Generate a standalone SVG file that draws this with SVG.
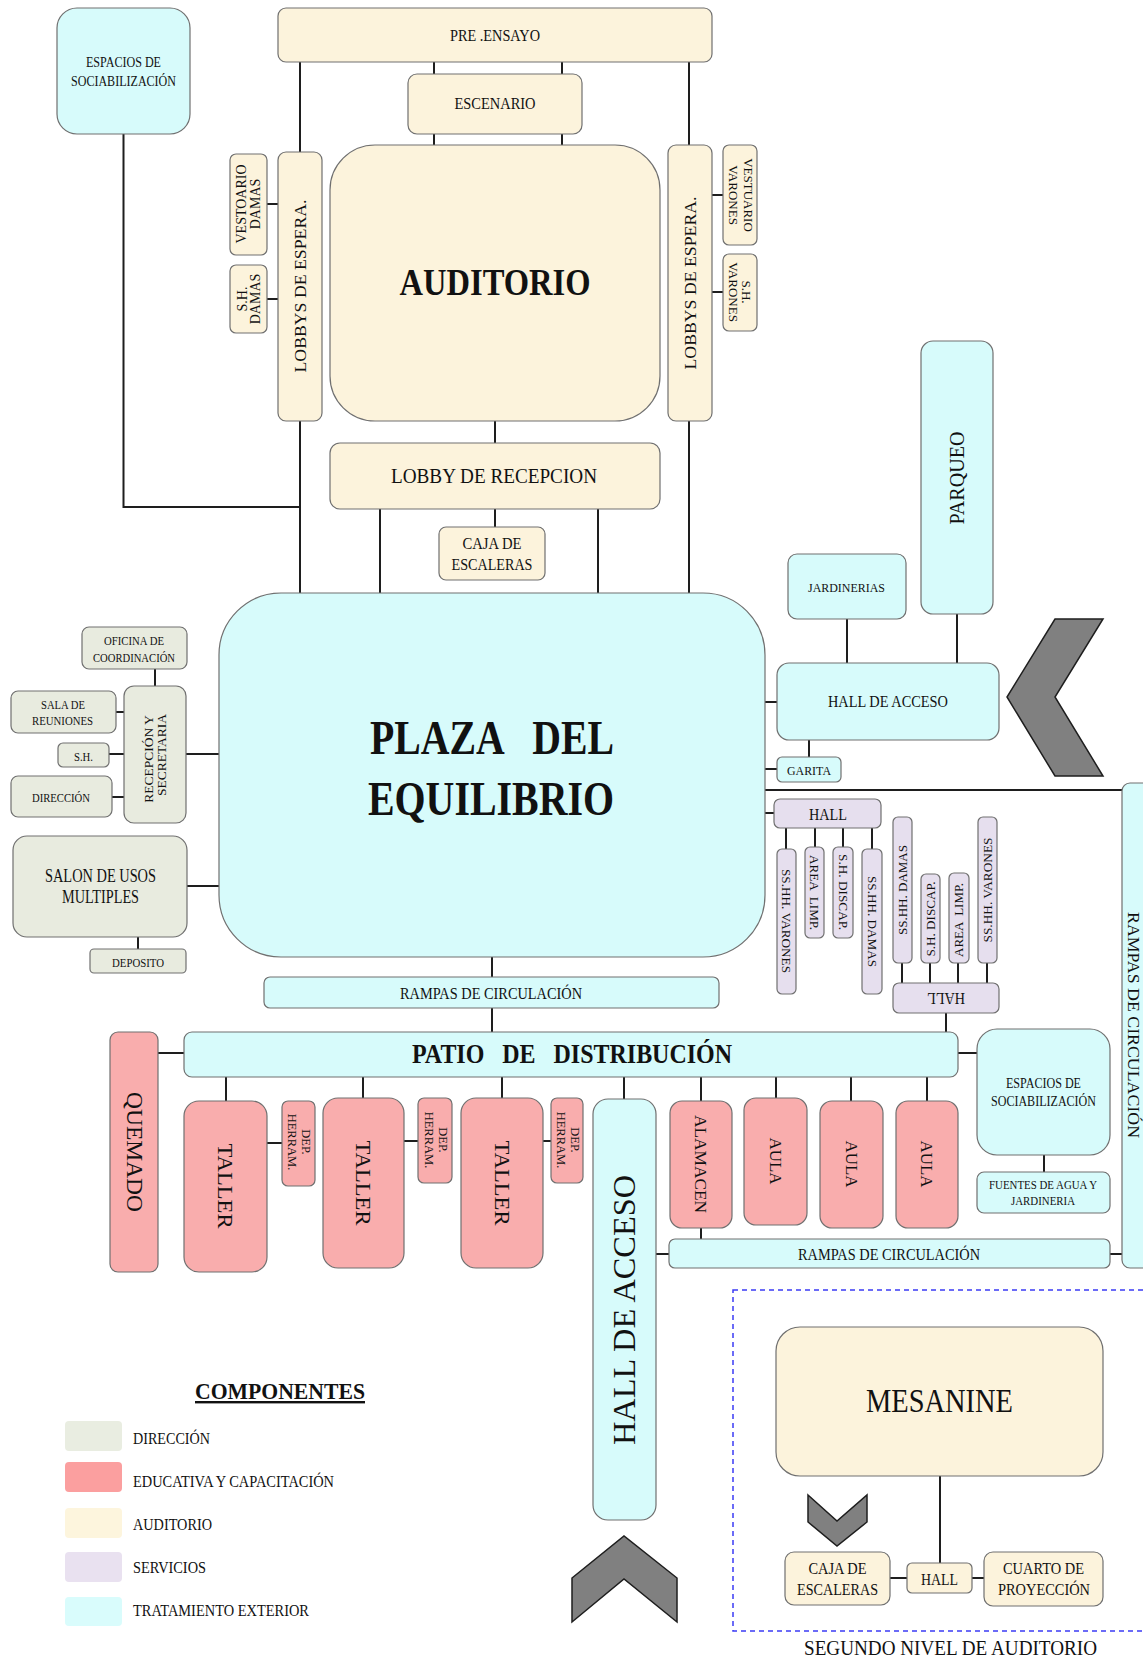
<svg xmlns="http://www.w3.org/2000/svg" width="1143" height="1660" viewBox="0 0 1143 1660">
<style>
.n{stroke:#707070;stroke-width:1.2}
.cy{fill:#d7fbfb}.cr{fill:#fcf3dc}.gr{fill:#e8ebdf}.rd{fill:#f9adad}.pu{fill:#e6dfee}
.c{fill:none;stroke:#1e1e1e;stroke-width:2}
text{font-family:"Liberation Serif","Times New Roman",serif;fill:#111;text-anchor:middle;white-space:pre}
.b{font-weight:bold}
.lg{text-anchor:start;font-size:17px}
.chev{fill:#808080;stroke:#1e1e1e;stroke-width:1.5}
</style>
<rect width="1143" height="1660" fill="#ffffff"/>
<g id="connectors">
<path class="c" d="M123.5,134V507H300M300,62V152M300,421V593M434,62V74M562,62V74M434,134V145M562,134V145M689,62V145M689,421V593M267,204H278M267,299H278M712,195H723M712,292H723M495,421V443M495,509V527M380,509V593M598,509V593"/>
<path class="c" d="M155,669V686M116,712H124M109,754H124M112,797H124M186,754H219M187,886H219M138,937V949"/>
<path class="c" d="M847,619V663M957,614V663M765,702H777M809,740V757M765,769H777M765,790H1122M765,813H774M786,828V849M815,828V847M843,828V847M872,828V849M902,963V983M930,963V983M958,963V983M987,963V983M946,1013V1032"/>
<path class="c" d="M492,957V977M492,1008V1032M158,1053H184M226,1077V1101M363,1077V1098M502,1077V1098M267,1143H282M404,1141H418M543,1141H551M624,1077V1099M701,1077V1101M776,1077V1098M851,1077V1101M927,1077V1101M958,1053H977M1044,1155V1172M701,1228V1239M656,1254H669M1110,1254H1122"/>
<path class="c" d="M940,1476V1563M890,1578H907M972,1578H984"/>
</g>
<g id="espacios-top"><rect class="n cy" x="57" y="8" width="133" height="126" rx="20"/><text x="123.5" y="67" font-size="14" textLength="75" lengthAdjust="spacingAndGlyphs">ESPACIOS DE</text><text x="123.5" y="86" font-size="14" textLength="105" lengthAdjust="spacingAndGlyphs">SOCIABILIZACIÓN</text></g>
<g id="pre-ensayo"><rect class="n cr" x="278" y="8" width="434" height="54" rx="8"/><text x="495" y="41" font-size="16" textLength="90" lengthAdjust="spacingAndGlyphs">PRE .ENSAYO</text></g>
<g id="escenario"><rect class="n cr" x="408" y="74" width="174" height="60" rx="9"/><text x="495" y="109" font-size="16" textLength="81" lengthAdjust="spacingAndGlyphs">ESCENARIO</text></g>
<g id="auditorio"><rect class="n cr" x="330" y="145" width="330" height="276" rx="45"/><text class="b" x="495" y="295" font-size="38" textLength="191" lengthAdjust="spacingAndGlyphs">AUDITORIO</text></g>
<g id="lobbys-izq"><rect class="n cr" x="278" y="152" width="44" height="269" rx="8"/><text transform="translate(300,286) rotate(-90)" x="0" y="5.5" font-size="16" textLength="173" lengthAdjust="spacingAndGlyphs">LOBBYS DE ESPERA.</text></g>
<g id="lobbys-der"><rect class="n cr" x="668" y="145" width="44" height="276" rx="8"/><text transform="translate(690,283) rotate(-90)" x="0" y="5.5" font-size="16" textLength="173" lengthAdjust="spacingAndGlyphs">LOBBYS DE ESPERA.</text></g>
<g id="vestoario-damas"><rect class="n cr" x="230" y="154" width="37" height="101" rx="6"/><text transform="translate(248.5,204) rotate(-90)" font-size="14"><tspan x="0" y="-2.5">VESTOARIO</tspan><tspan x="0" y="11.5">DAMAS</tspan></text></g>
<g id="sh-damas"><rect class="n cr" x="230" y="265" width="37" height="68" rx="6"/><text transform="translate(248.5,299) rotate(-90)" font-size="14"><tspan x="0" y="-1.5">S.H.</tspan><tspan x="0" y="11.5">DAMAS</tspan></text></g>
<g id="vestuario-varones"><rect class="n cr" x="723" y="145" width="34" height="100" rx="6"/><text transform="translate(740,195) rotate(90)" font-size="13"><tspan x="0" y="-4">VESTUARIO</tspan><tspan x="0" y="11">VARONES</tspan></text></g>
<g id="sh-varones"><rect class="n cr" x="723" y="254" width="34" height="77" rx="6"/><text transform="translate(740,292) rotate(90)" font-size="13"><tspan x="0" y="-2">S.H.</tspan><tspan x="0" y="11">VARONES</tspan></text></g>
<g id="lobby-recepcion"><rect class="n cr" x="330" y="443" width="330" height="66" rx="10"/><text x="494" y="483" font-size="20" textLength="206" lengthAdjust="spacingAndGlyphs">LOBBY DE RECEPCION</text></g>
<g id="caja-escaleras-1"><rect class="n cr" x="439" y="527" width="106" height="53" rx="7"/><text x="492" y="549" font-size="16" textLength="59" lengthAdjust="spacingAndGlyphs">CAJA DE</text><text x="492" y="570" font-size="16" textLength="81" lengthAdjust="spacingAndGlyphs">ESCALERAS</text></g>
<g id="plaza"><rect class="n cy" x="219" y="593" width="546" height="364" rx="62"/><text class="b" x="492" y="754" font-size="48" textLength="244" lengthAdjust="spacingAndGlyphs">PLAZA   DEL</text><text class="b" x="491" y="815" font-size="48" textLength="246" lengthAdjust="spacingAndGlyphs">EQUILIBRIO</text></g>
<g id="oficina"><rect class="n gr" x="82" y="627" width="105" height="42" rx="7"/><text x="134" y="645" font-size="13" textLength="60" lengthAdjust="spacingAndGlyphs">OFICINA DE</text><text x="134" y="662" font-size="13" textLength="82" lengthAdjust="spacingAndGlyphs">COORDINACIÓN</text></g>
<g id="recepcion"><rect class="n gr" x="124" y="686" width="62" height="137" rx="10"/><text transform="translate(155,756) rotate(-90)" font-size="13.5"><tspan x="-3" y="-2">RECEPCIÓN Y</tspan><tspan x="1" y="11">SECRETARIA</tspan></text></g>
<g id="sala-reuniones"><rect class="n gr" x="11" y="691" width="105" height="42" rx="7"/><text x="63" y="709" font-size="13" textLength="44" lengthAdjust="spacingAndGlyphs">SALA DE</text><text x="62.5" y="725" font-size="13" textLength="61" lengthAdjust="spacingAndGlyphs">REUNIONES</text></g>
<g id="sh-dir"><rect class="n gr" x="58" y="743" width="51" height="24" rx="5"/><text x="83.5" y="761" font-size="13" textLength="19" lengthAdjust="spacingAndGlyphs">S.H.</text></g>
<g id="direccion"><rect class="n gr" x="11" y="776" width="101" height="41" rx="7"/><text x="61" y="802" font-size="13" textLength="58" lengthAdjust="spacingAndGlyphs">DIRECCIÓN</text></g>
<g id="salon"><rect class="n gr" x="13" y="836" width="174" height="101" rx="14"/><text x="100.5" y="882" font-size="18" textLength="111" lengthAdjust="spacingAndGlyphs">SALON DE USOS</text><text x="100.5" y="903" font-size="18" textLength="77" lengthAdjust="spacingAndGlyphs">MULTIPLES</text></g>
<g id="deposito"><rect class="n gr" x="90" y="949" width="96" height="24" rx="4"/><text x="138" y="967" font-size="13" textLength="52" lengthAdjust="spacingAndGlyphs">DEPOSITO</text></g>
<g id="jardinerias"><rect class="n cy" x="788" y="554" width="118" height="65" rx="9"/><text x="846.5" y="592" font-size="13" textLength="77" lengthAdjust="spacingAndGlyphs">JARDINERIAS</text></g>
<g id="parqueo"><rect class="n cy" x="921" y="341" width="72" height="273" rx="12"/><text transform="translate(957,478) rotate(-90)" x="0" y="6.6" font-size="20" textLength="93" lengthAdjust="spacingAndGlyphs">PARQUEO</text></g>
<g id="hall-acceso-h"><rect class="n cy" x="777" y="663" width="222" height="77" rx="12"/><text x="888" y="707" font-size="17" textLength="120" lengthAdjust="spacingAndGlyphs">HALL DE ACCESO</text></g>
<g id="garita"><rect class="n cy" x="777" y="757" width="64" height="25" rx="5"/><text x="809" y="775" font-size="13" textLength="44" lengthAdjust="spacingAndGlyphs">GARITA</text></g>
<g id="chevron-right"><polygon class="chev" points="1055,619 1103,619 1055,697 1103,776 1055,776 1007,697"/></g>
<g id="hall-serv-1"><rect class="n pu" x="774" y="799" width="107" height="29" rx="6"/><text x="828" y="820" font-size="16" textLength="38" lengthAdjust="spacingAndGlyphs">HALL</text></g>
<g id="sshh-varones-1"><rect class="n pu" x="777" y="849" width="19" height="145" rx="5"/><text transform="translate(786.5,921) rotate(90)" x="0" y="4.3" font-size="13" textLength="104" lengthAdjust="spacingAndGlyphs">SS.HH. VARONES</text></g>
<g id="area-limp-1"><rect class="n pu" x="805" y="847" width="19" height="91" rx="5"/><text transform="translate(814.5,892.5) rotate(90)" x="0" y="4.3" font-size="13" textLength="75" lengthAdjust="spacingAndGlyphs">AREA  LIMP.</text></g>
<g id="sh-discap-1"><rect class="n pu" x="833" y="847" width="20" height="91" rx="5"/><text transform="translate(843,892) rotate(90)" x="0" y="4.3" font-size="13" textLength="76" lengthAdjust="spacingAndGlyphs">S.H. DISCAP.</text></g>
<g id="sshh-damas-1"><rect class="n pu" x="862" y="849" width="20" height="145" rx="5"/><text transform="translate(872,921.5) rotate(90)" x="0" y="4.3" font-size="13" textLength="91" lengthAdjust="spacingAndGlyphs">SS.HH. DAMAS</text></g>
<g id="sshh-damas-2"><rect class="n pu" x="893" y="817" width="19" height="146" rx="5"/><text transform="translate(902.5,890) rotate(-90)" x="0" y="4.3" font-size="13" textLength="90" lengthAdjust="spacingAndGlyphs">SS.HH. DAMAS</text></g>
<g id="sh-discap-2"><rect class="n pu" x="921" y="874" width="19" height="89" rx="5"/><text transform="translate(930.5,919) rotate(-90)" x="0" y="4.3" font-size="13" textLength="75" lengthAdjust="spacingAndGlyphs">S.H. DISCAP.</text></g>
<g id="area-limp-2"><rect class="n pu" x="949" y="873" width="20" height="90" rx="5"/><text transform="translate(959,920) rotate(-90)" x="0" y="4.3" font-size="13" textLength="74" lengthAdjust="spacingAndGlyphs">AREA  LIMP.</text></g>
<g id="sshh-varones-2"><rect class="n pu" x="978" y="817" width="19" height="146" rx="5"/><text transform="translate(987.5,890) rotate(-90)" x="0" y="4.3" font-size="13" textLength="105" lengthAdjust="spacingAndGlyphs">SS.HH. VARONES</text></g>
<g id="hall-serv-2"><rect class="n pu" x="893" y="983" width="106" height="30" rx="6"/><text transform="translate(946,998) rotate(180)" x="0" y="5.5" font-size="16" textLength="38" lengthAdjust="spacingAndGlyphs">HALL</text></g>
<g id="rampas-der"><rect class="n cy" x="1122" y="783" width="45" height="485" rx="8"/><text transform="translate(1134,1025) rotate(90)" x="0" y="5.6" font-size="17" textLength="226" lengthAdjust="spacingAndGlyphs">RAMPAS DE CIRCULACIÓN</text></g>
<g id="rampas-1"><rect class="n cy" x="264" y="977" width="455" height="31" rx="6"/><text x="491" y="999" font-size="16" textLength="182" lengthAdjust="spacingAndGlyphs">RAMPAS DE CIRCULACIÓN</text></g>
<g id="patio"><rect class="n cy" x="184" y="1032" width="774" height="45" rx="8"/><text class="b" x="572" y="1063" font-size="27" textLength="320" lengthAdjust="spacingAndGlyphs">PATIO   DE   DISTRIBUCIÓN</text></g>
<g id="quemado"><rect class="n rd" x="110" y="1032" width="48" height="240" rx="8"/><text transform="translate(134.5,1152) rotate(90)" x="0" y="7.6" font-size="23" textLength="120" lengthAdjust="spacingAndGlyphs">QUEMADO</text></g>
<g id="taller-1"><rect class="n rd" x="184" y="1101" width="83" height="171" rx="15"/><text transform="translate(225.5,1186) rotate(90)" x="0" y="7.3" font-size="22" textLength="85" lengthAdjust="spacingAndGlyphs">TALLER</text></g>
<g id="dep-1"><rect class="n rd" x="282" y="1101" width="33" height="85" rx="6"/><text transform="translate(298.5,1142) rotate(90)" font-size="12.5"><tspan x="0" y="-3.5">DEP.</tspan><tspan x="0" y="10.5">HERRAM.</tspan></text></g>
<g id="taller-2"><rect class="n rd" x="323" y="1098" width="81" height="170" rx="15"/><text transform="translate(363.5,1183) rotate(90)" x="0" y="7.3" font-size="22" textLength="85" lengthAdjust="spacingAndGlyphs">TALLER</text></g>
<g id="dep-2"><rect class="n rd" x="418" y="1098" width="34" height="85" rx="6"/><text transform="translate(435,1140) rotate(90)" font-size="12.5"><tspan x="0" y="-3.5">DEP.</tspan><tspan x="0" y="10.5">HERRAM.</tspan></text></g>
<g id="taller-3"><rect class="n rd" x="461" y="1098" width="82" height="170" rx="15"/><text transform="translate(502,1183) rotate(90)" x="0" y="7.3" font-size="22" textLength="85" lengthAdjust="spacingAndGlyphs">TALLER</text></g>
<g id="dep-3"><rect class="n rd" x="551" y="1098" width="32" height="85" rx="6"/><text transform="translate(567,1140) rotate(90)" font-size="12.5"><tspan x="0" y="-3.5">DEP.</tspan><tspan x="0" y="10.5">HERRAM.</tspan></text></g>
<g id="hall-acceso-v"><rect class="n cy" x="593" y="1099" width="63" height="421" rx="15"/><text transform="translate(624.5,1310) rotate(-90)" x="0" y="10.5" font-size="32" textLength="270" lengthAdjust="spacingAndGlyphs">HALL DE ACCESO</text></g>
<g id="alamacen"><rect class="n rd" x="670" y="1101" width="62" height="127" rx="12"/><text transform="translate(701,1164) rotate(90)" x="0" y="5.6" font-size="17" textLength="98" lengthAdjust="spacingAndGlyphs">ALAMACEN</text></g>
<g id="aula-1"><rect class="n rd" x="744" y="1098" width="63" height="127" rx="12"/><text transform="translate(775.5,1161) rotate(90)" x="0" y="5.6" font-size="17" textLength="47" lengthAdjust="spacingAndGlyphs">AULA</text></g>
<g id="aula-2"><rect class="n rd" x="820" y="1101" width="63" height="127" rx="12"/><text transform="translate(851.5,1164) rotate(90)" x="0" y="5.6" font-size="17" textLength="47" lengthAdjust="spacingAndGlyphs">AULA</text></g>
<g id="aula-3"><rect class="n rd" x="896" y="1101" width="62" height="127" rx="12"/><text transform="translate(927,1164) rotate(90)" x="0" y="5.6" font-size="17" textLength="47" lengthAdjust="spacingAndGlyphs">AULA</text></g>
<g id="espacios-der"><rect class="n cy" x="977" y="1029" width="133" height="126" rx="20"/><text x="1043.5" y="1088" font-size="14" textLength="75" lengthAdjust="spacingAndGlyphs">ESPACIOS DE</text><text x="1043.5" y="1106" font-size="14" textLength="105" lengthAdjust="spacingAndGlyphs">SOCIABILIZACIÓN</text></g>
<g id="fuentes"><rect class="n cy" x="977" y="1172" width="133" height="41" rx="7"/><text x="1043" y="1189" font-size="13" textLength="108" lengthAdjust="spacingAndGlyphs">FUENTES DE AGUA Y</text><text x="1043" y="1205" font-size="13" textLength="64" lengthAdjust="spacingAndGlyphs">JARDINERIA</text></g>
<g id="rampas-2"><rect class="n cy" x="669" y="1239" width="441" height="29" rx="6"/><text x="889" y="1260" font-size="16" textLength="182" lengthAdjust="spacingAndGlyphs">RAMPAS DE CIRCULACIÓN</text></g>
<g id="chevron-up"><polygon class="chev" points="572,1578 624,1536 677,1578 677,1622 624,1579 572,1622"/></g>
<g id="segundo-nivel">
<rect x="733" y="1290" width="430" height="341" fill="none" stroke="#3b3bf5" stroke-width="1.5" stroke-dasharray="5,4"/>
<text x="950.5" y="1655" font-size="20" textLength="293" lengthAdjust="spacingAndGlyphs">SEGUNDO NIVEL DE AUDITORIO</text>
</g>
<g id="mesanine"><rect class="n cr" x="776" y="1327" width="327" height="149" rx="24"/><text x="939.5" y="1412" font-size="33" textLength="147" lengthAdjust="spacingAndGlyphs">MESANINE</text></g>
<g id="chevron-down"><polygon class="chev" points="808,1495 837,1521 867,1495 867,1522 837,1546 808,1522"/></g>
<g id="caja-escaleras-2"><rect class="n cr" x="785" y="1552" width="105" height="53" rx="9"/><text x="837.5" y="1574" font-size="17" textLength="58" lengthAdjust="spacingAndGlyphs">CAJA DE</text><text x="837.5" y="1595" font-size="17" textLength="81" lengthAdjust="spacingAndGlyphs">ESCALERAS</text></g>
<g id="hall-mesanine"><rect class="n cr" x="907" y="1563" width="65" height="30" rx="5"/><text x="939.5" y="1585" font-size="16" textLength="37" lengthAdjust="spacingAndGlyphs">HALL</text></g>
<g id="cuarto-proyeccion"><rect class="n cr" x="984" y="1552" width="119" height="54" rx="9"/><text x="1043.5" y="1574" font-size="17" textLength="81" lengthAdjust="spacingAndGlyphs">CUARTO DE</text><text x="1044" y="1595" font-size="17" textLength="92" lengthAdjust="spacingAndGlyphs">PROYECCIÓN</text></g>
<g id="leyenda">
<text class="b" x="280" y="1399" font-size="24" textLength="170" lengthAdjust="spacingAndGlyphs" text-decoration="underline">COMPONENTES</text>
<rect x="65" y="1421" width="57" height="30" rx="4" fill="#e9ede1"/>
<text class="lg" x="133" y="1444" textLength="77" lengthAdjust="spacingAndGlyphs">DIRECCIÓN</text>
<rect x="65" y="1462" width="57" height="30" rx="4" fill="#fb9f9f"/>
<text class="lg" x="133" y="1487" textLength="201" lengthAdjust="spacingAndGlyphs">EDUCATIVA Y CAPACITACIÓN</text>
<rect x="65" y="1508" width="57" height="30" rx="4" fill="#fdf5dd"/>
<text class="lg" x="133" y="1530" textLength="79" lengthAdjust="spacingAndGlyphs">AUDITORIO</text>
<rect x="65" y="1552" width="57" height="30" rx="4" fill="#e9e1f0"/>
<text class="lg" x="133" y="1573" textLength="73" lengthAdjust="spacingAndGlyphs">SERVICIOS</text>
<rect x="65" y="1597" width="57" height="29" rx="4" fill="#d9fcfc"/>
<text class="lg" x="133" y="1616" textLength="176" lengthAdjust="spacingAndGlyphs">TRATAMIENTO EXTERIOR</text>
</g>
</svg>
